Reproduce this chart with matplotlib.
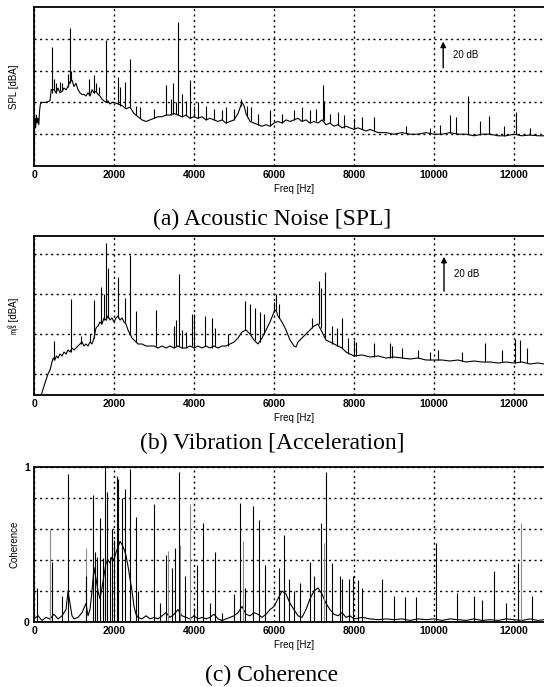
"""
plot.py - three stacked spectra: acoustic noise, vibration and coherence.
"""

import matplotlib
matplotlib.use("Agg")
import matplotlib.pyplot as plt


# ------------------------------------------------------------
# Data
# ------------------------------------------------------------

FREQ_TICKS = [0, 2000, 4000, 6000, 8000, 10000, 12000]

# (a) acoustic noise, dB
A_BASE_FREQ = [0, 20, 40, 60, 80, 100, 120, 140, 160, 200, 300, 400, 430, 500,
               550, 600, 650, 700, 750, 800, 850, 900, 950, 1000, 1050, 1100,
               1150, 1200, 1250, 1300, 1350, 1400, 1450, 1500, 1550, 1600,
               1650, 1700, 1750, 1800, 1850, 1900, 1950, 2000, 2100, 2200,
               2300, 2400, 2500, 2600, 2700, 2800, 2900, 3000, 3100, 3200,
               3300, 3400, 3500, 3600, 3700, 3800, 3900, 4000, 4100, 4200,
               4300, 4400, 4500, 4600, 4700, 4800, 4900, 5000, 5100, 5200,
               5250, 5300, 5400, 5500, 5600, 5700, 5800, 5900, 6000, 6100,
               6200, 6300, 6400, 6500, 6600, 6700, 6800, 6900, 7000, 7100,
               7200, 7300, 7400, 7500, 7600, 7700, 7800, 7900, 8000, 8100,
               8200, 8300, 8400, 8500, 8600, 8800, 9000, 9200, 9400, 9600,
               9800, 10000, 10200, 10400, 10600, 10800, 11000, 11200, 11400,
               11600, 11800, 12000, 12200, 12400, 12600, 12750]
A_BASE_DB = [7, 30, 24, 32, 27, 30, 26, 35, 39, 40, 40, 41, 48, 48,
             46, 49, 46, 47, 49, 48, 50, 53, 54, 50, 52, 48,
             46, 45, 45, 44, 46, 44, 48, 46, 47, 45,
             44, 42, 41, 40, 41, 39, 40, 40, 39, 38,
             36, 37, 33, 31, 29, 28, 29, 30, 31, 31,
             32, 32, 33, 32, 31, 32, 30, 31, 30, 31,
             29, 30, 29, 28, 29, 27, 28, 29, 33, 40,
             38, 33, 28, 27, 26, 25, 26, 25, 27, 28,
             27, 29, 28, 29, 30, 28, 29, 27, 28, 27,
             29, 26, 27, 25, 26, 24, 25, 24, 23, 24,
             23, 22, 23, 22, 21, 21, 20, 21, 20, 20,
             21, 20, 20, 21, 20, 20, 19, 20, 20,
             19, 19, 20, 19, 19.5, 19, 19]
A_PEAK_FREQ = [450, 500, 560, 640, 700, 850, 900, 930, 1370, 1500, 1560, 1620,
               1800, 2100, 2150, 2270, 2400, 2550, 2650, 3000, 3300, 3420,
               3480, 3550, 3600, 3700, 3800, 3900, 4000, 4100, 4300, 4500,
               4700, 4800, 5000, 5180, 5330, 5430, 5600, 5900, 6200, 6500,
               6700, 6900, 7050, 7230, 7260, 7400, 7600, 7750, 8000, 8200,
               8500, 9300, 9900, 10150, 10400, 10560, 10850, 11150, 11370,
               11750, 12050, 12400]
A_PEAK_BASE = [46, 48, 46, 47, 47, 50, 52, 54, 45, 46, 47, 45,
               40, 39, 38, 37, 37, 32, 30, 30, 32, 32,
               33, 33, 32, 31, 32, 30, 31, 30, 29, 29,
               29, 27, 29, 38, 31, 28, 26, 25, 27, 29,
               28, 27, 28, 29, 28, 27, 26, 24, 23, 23,
               22, 21, 21, 20, 21, 20, 20, 19.5, 20,
               19, 20, 19.5]
A_PEAK_TOP = [75, 55, 52, 53, 52, 58, 87, 60, 55, 57, 52, 50,
              79, 56, 50, 53, 67, 38, 37, 36, 51, 42,
              52, 40, 90.6, 45, 41, 54, 38, 40, 38, 36,
              35, 37, 36, 42, 38, 37, 33, 35, 33, 35,
              37, 35, 36, 51, 41, 33, 34, 32, 30, 31,
              31, 25, 24, 26, 32, 31, 44, 28, 31.4,
              25, 34, 24]

# (b) vibration, dB
B_BASE_FREQ = [190, 250, 300, 350, 400, 450, 480, 520, 560, 600, 650, 700,
               750, 800, 850, 900, 950, 1000, 1050, 1100, 1150, 1200, 1250,
               1300, 1350, 1400, 1450, 1500, 1550, 1600, 1650, 1700, 1750,
               1800, 1850, 1900, 1950, 2000, 2050, 2100, 2150, 2200, 2250,
               2300, 2350, 2400, 2450, 2500, 2600, 2700, 2800, 2900, 3000,
               3100, 3200, 3300, 3400, 3500, 3600, 3700, 3800, 3900, 4000,
               4100, 4200, 4300, 4400, 4500, 4600, 4700, 4800, 4900, 5000,
               5100, 5200, 5300, 5400, 5500, 5600, 5700, 5800, 5900, 6000,
               6050, 6100, 6200, 6300, 6400, 6500, 6550, 6600, 6700, 6800,
               6900, 7000, 7100, 7200, 7300, 7400, 7500, 7600, 7700, 7800,
               7900, 8000, 8200, 8400, 8600, 8800, 9000, 9200, 9400, 9600,
               9800, 10000, 10200, 10400, 10600, 10800, 11000, 11200, 11400,
               11600, 11800, 12000, 12200, 12400, 12600, 12750]
B_BASE_DB = [10, 14, 17, 20, 22, 26, 28, 27, 29, 28, 30, 29,
             31, 30, 32, 31, 33, 32, 33, 34, 35, 36, 34,
             35, 34, 36, 35, 38, 43, 44, 46, 45, 48,
             47, 49, 47, 48, 46, 48, 49, 47, 48, 46,
             45, 42, 40, 38, 37, 35, 35, 34, 34, 34,
             33, 34, 33, 34, 33, 34, 33, 33, 34, 33,
             34, 33, 34, 33, 34, 33, 34, 34, 35, 36,
             38, 41, 42, 40, 37, 35, 38, 42, 46, 51,
             52, 49, 46, 42, 37, 34, 33.5, 36, 38, 40,
             42, 44, 45, 41, 37, 36, 35, 34, 33, 31,
             30, 29, 29.5, 28.5, 29, 28, 28.5, 28, 27.5, 28,
             27, 27, 27, 26.5, 27, 26, 26.5, 26, 26,
             25.5, 26, 25.5, 26, 25, 25.5, 25]
B_PEAK_FREQ = [500, 915, 1170, 1400, 1500, 1680, 1740, 1800, 1860, 2110, 2270,
               2410, 2540, 3040, 3500, 3560, 3625, 3700, 3800, 3940, 4000,
               4280, 4450, 4520, 4850, 5285, 5410, 5515, 5640, 5750, 6000,
               6060, 6120, 6950, 7120, 7180, 7280, 7450, 7570, 7700, 7850,
               8000, 8060, 8490, 8900, 8950, 9200, 9600, 9900, 10100, 10700,
               11270, 11700, 12030, 12150, 12330]
B_PEAK_BASE = [27, 31, 35, 36, 38, 45, 47, 47, 48, 48, 46,
               40, 36, 34, 33, 34, 34, 33, 33, 34, 33,
               34, 33, 34, 34, 42, 40, 37, 36, 40, 51,
               52, 48, 43, 45, 43, 38, 35, 34, 33, 30,
               29, 29, 28.5, 28, 28, 28, 28, 27, 27, 26.5,
               26, 26, 25.5, 26, 25.5]
B_PEAK_TOP = [36.5, 57.5, 39, 40, 57, 63.5, 60, 85.5, 73, 68.5, 58,
              79.7, 51.5, 52, 44, 47, 70, 42, 41, 50, 50,
              49, 48, 43, 40, 56.7, 55, 53, 51, 50, 56,
              60, 55, 48, 66.5, 63, 71, 44, 43, 48, 38,
              37, 36, 35.5, 35.5, 34, 33, 32, 31, 32, 31,
              35.5, 32, 37.5, 37, 33]

# (c) coherence
C_BASE_FREQ = [0, 100, 200, 300, 400, 500, 600, 700, 800, 850, 900, 950, 1000,
               1100, 1200, 1300, 1350, 1400, 1450, 1500, 1550, 1600, 1650,
               1700, 1750, 1800, 1850, 1900, 1950, 2000, 2050, 2100, 2150,
               2200, 2250, 2300, 2350, 2400, 2450, 2500, 2550, 2600, 2700,
               2800, 2900, 3000, 3100, 3200, 3300, 3400, 3500, 3600, 3700,
               3800, 3900, 4000, 4100, 4200, 4300, 4400, 4500, 4600, 4700,
               4800, 4900, 5000, 5100, 5200, 5300, 5400, 5500, 5600, 5700,
               5800, 5900, 6000, 6100, 6200, 6300, 6400, 6500, 6600, 6700,
               6800, 6900, 7000, 7100, 7200, 7300, 7400, 7500, 7600, 7700,
               7800, 7900, 8000, 8200, 8400, 8600, 8800, 9000, 9200, 9400,
               9600, 9800, 10000, 10200, 10400, 10600, 10800, 11000, 11200,
               11400, 11600, 11800, 12000, 12200, 12400, 12600, 12750]
C_BASE_VAL = [0.02, 0.04, 0.01, 0.03, 0.02, 0.05, 0.02, 0.04, 0.08, 0.2, 0.12,
              0.04, 0.02, 0.03, 0.06, 0.12, 0.04, 0.08, 0.2, 0.35, 0.28, 0.2,
              0.15, 0.22, 0.3, 0.38, 0.4, 0.38, 0.42, 0.4, 0.45, 0.48, 0.52,
              0.5, 0.47, 0.43, 0.36, 0.28, 0.2, 0.1, 0.05, 0.03, 0.02,
              0.04, 0.02, 0.03, 0.02, 0.04, 0.06, 0.03, 0.05, 0.08, 0.04,
              0.03, 0.02, 0.04, 0.02, 0.03, 0.02, 0.03, 0.05, 0.02, 0.01,
              0.02, 0.03, 0.04, 0.06, 0.1, 0.05, 0.04, 0.06, 0.05, 0.03,
              0.05, 0.08, 0.1, 0.15, 0.2, 0.18, 0.12, 0.08, 0.04, 0.03,
              0.08, 0.15, 0.2, 0.22, 0.18, 0.12, 0.08, 0.05, 0.04, 0.06,
              0.03, 0.04, 0.02, 0.03, 0.02, 0.015, 0.02, 0.015, 0.02, 0.01,
              0.02, 0.015, 0.02, 0.01, 0.02, 0.015, 0.01, 0.02, 0.01,
              0.015, 0.01, 0.02, 0.015, 0.01, 0.02, 0.01, 0.015]
C_PEAK_FREQ = [70, 450, 700, 855, 1300, 1470, 1530, 1580, 1640, 1720, 1780,
               1820, 1900, 1960, 2010, 2075, 2100, 2200, 2270, 2390, 2540,
               2600, 2995, 3150, 3310, 3460, 3530, 3620, 3780, 4010, 4065,
               4220, 4400, 4515, 4700, 5000, 5150, 5280, 5465, 5630, 5770,
               6135, 6240, 6370, 6500, 6650, 6890, 7000, 7165, 7310, 7450,
               7640, 7710, 7870, 7970, 8100, 8200, 8710, 8990, 9280, 9560,
               10060, 10580, 10990, 11200, 11490, 11800, 12090, 12450]
C_PEAK_TOP = [0.22, 0.39, 0.17, 0.955, 0.3, 0.82, 0.45, 0.42, 0.67, 0.41, 1.0,
              0.84, 0.42, 0.6, 0.53, 0.94, 0.92, 0.8, 0.86, 0.99, 0.68,
              0.2, 0.76, 0.12, 0.43, 0.35, 0.48, 0.97, 0.3, 0.09, 0.37,
              0.64, 0.12, 0.45, 0.06, 0.18, 0.77, 0.22, 0.75, 0.66, 0.37,
              0.35, 0.56, 0.28, 0.2, 0.25, 0.39, 0.3, 0.64, 0.97, 0.38,
              0.3, 0.28, 0.28, 0.3, 0.27, 0.22, 0.28, 0.17, 0.16, 0.16,
              0.51, 0.19, 0.17, 0.14, 0.33, 0.12, 0.38, 0.17]
C_GREY_FREQ = [410, 1300, 3340, 3650, 3910, 5230, 7250, 12170]
C_GREY_TOP = [0.6, 0.48, 0.46, 0.5, 0.76, 0.52, 0.51, 0.64]

TITLES = ["(a) Acoustic Noise [SPL]", "(b) Vibration [Acceleration]",
          "(c) Coherence"]


# ------------------------------------------------------------
# Figure
# ------------------------------------------------------------

TICK_FONT = {"family": "Liberation Sans", "size": 7.5, "weight": "bold"}
LABEL_FONT = {"family": "Liberation Sans", "size": 7}


def style_axes(ax, ylim, yticks):
    ax.set_xlim(0, 13000)
    ax.set_ylim(*ylim)
    ax.set_xticks(FREQ_TICKS)
    ax.set_xticklabels([str(f) for f in FREQ_TICKS], fontdict=TICK_FONT)
    ax.set_yticks(yticks)
    ax.set_yticklabels([])
    ax.tick_params(length=0, pad=3)
    ax.grid(True, color="black", linestyle=(0, (1.5, 2.5)), linewidth=1.0)
    for spine in ax.spines.values():
        spine.set_linewidth(1.3)
    ax.set_xlabel("Freq [Hz]", fontdict=LABEL_FONT, labelpad=3)


def add_20db_arrow(ax, x, y0, y1):
    ax.annotate("", xy=(x, y1), xytext=(x, y0),
                arrowprops=dict(arrowstyle="-|>", color="black", lw=1.0,
                                mutation_scale=8))
    ax.text(x + 250, (y0 + y1) / 2, "20 dB", fontsize=7,
            family="Liberation Sans", va="center")


fig = plt.figure(figsize=(5.44, 6.87), dpi=100)

ax_a = fig.add_axes([34 / 544, 1 - 166 / 687, 520 / 544, 159 / 687])
ax_b = fig.add_axes([34 / 544, 1 - 395 / 687, 520 / 544, 159 / 687])
ax_c = fig.add_axes([34 / 544, 1 - 622 / 687, 520 / 544, 155 / 687])

# (a)
ax_a.plot(A_BASE_FREQ, A_BASE_DB, color="black", linewidth=0.8)
ax_a.vlines(A_PEAK_FREQ, A_PEAK_BASE, A_PEAK_TOP, color="black", linewidth=0.8)
style_axes(ax_a, (0, 100), [20, 40, 60, 80])
ax_a.set_ylabel("SPL [dBA]", fontdict=LABEL_FONT)
ax_a.yaxis.set_label_coords(-0.028, 0.5)
add_20db_arrow(ax_a, 10230, 60, 80)

# (b)
ax_b.plot(B_BASE_FREQ, B_BASE_DB, color="black", linewidth=0.8)
ax_b.vlines(B_PEAK_FREQ, B_PEAK_BASE, B_PEAK_TOP, color="black", linewidth=0.8)
style_axes(ax_b, (9.5, 89), [20, 40, 60, 80])
ax_b.set_ylabel("㎨ [dBA]", fontdict={"family": ["Liberation Sans",
                                                 "Noto Sans CJK JP"],
                                      "size": 7})
ax_b.yaxis.set_label_coords(-0.028, 0.5)
add_20db_arrow(ax_b, 10250, 60, 80)

# (c)
ax_c.plot(C_BASE_FREQ, C_BASE_VAL, color="black", linewidth=0.8)
ax_c.vlines(C_GREY_FREQ, 0, C_GREY_TOP, color="#8a8a8a", linewidth=0.8)
ax_c.vlines(C_PEAK_FREQ, 0, C_PEAK_TOP, color="black", linewidth=0.8)
style_axes(ax_c, (0, 1), [0, 0.2, 0.4, 0.6, 0.8, 1.0])
ax_c.set_yticklabels(["0", "", "", "", "", "1"], fontdict=TICK_FONT)
ax_c.set_ylabel("Coherence", fontdict=LABEL_FONT)
ax_c.yaxis.set_label_coords(-0.028, 0.5)

for y_px, title in zip([219, 443, 675], TITLES):
    fig.text(0.5, 1 - y_px / 687, title, ha="center", va="center",
             family="Liberation Serif", fontsize=17)

fig.savefig("out.png", dpi=100)
